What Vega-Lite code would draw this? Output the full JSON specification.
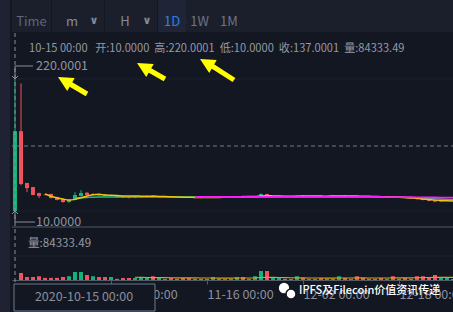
{
"$schema": "https://vega.github.io/schema/vega-lite/v6.json",
"background": "#131722",
"padding": 0,
"spacing": 0,
"bounds": "full",
"config": {"view": {"stroke": null}, "font": "Noto Sans CJK SC", "concat": {"spacing": 0}, "scale": {"continuousPadding": 0}},
"datasets": {
"candles": [
{"date":"2020-10-15","open":10,"high":220.0001,"low":10,"close":137.0001,"vol":null},
{"date":"2020-10-16","open":137.0001,"high":213,"low":51,"close":53,"vol":56000},
{"date":"2020-10-17","open":54.5,"high":55,"low":40,"close":46.5,"vol":24000},
{"date":"2020-10-18","open":48,"high":48.5,"low":35,"close":35.5,"vol":24000},
{"date":"2020-10-19","open":38.5,"high":39,"low":30.7,"close":34,"vol":30000},
{"date":"2020-10-20","open":35.8,"high":36.5,"low":35,"close":35.3,"vol":17000,"ma5":37},
{"date":"2020-10-21","open":37,"high":37.5,"low":30,"close":30.7,"vol":17000,"ma5":33.5},
{"date":"2020-10-22","open":32,"high":32.5,"low":27,"close":27.5,"vol":17000,"ma5":31},
{"date":"2020-10-23","open":29,"high":29.5,"low":23,"close":24.3,"vol":24000,"ma5":29},
{"date":"2020-10-24","open":24.3,"high":28.5,"low":23,"close":27.5,"vol":30000,"ma5":27.5},
{"date":"2020-10-25","open":27.5,"high":40,"low":27,"close":35.5,"vol":64000,"ma5":28.5,"ma10":30.5},
{"date":"2020-10-26","open":33.9,"high":43,"low":33,"close":38.6,"vol":64000,"ma5":31,"ma10":31},
{"date":"2020-10-27","open":39,"high":40,"low":35.5,"close":35.5,"vol":40000,"ma5":34,"ma10":31.5},
{"date":"2020-10-28","open":35.5,"high":38.6,"low":35,"close":37,"vol":30000,"ma5":36,"ma10":32},
{"date":"2020-10-29","open":37,"high":37.5,"low":34,"close":35,"vol":24000,"ma5":36.5,"ma10":32.2},
{"date":"2020-10-30","open":36,"high":36.5,"low":33.5,"close":34,"vol":24000,"ma5":35.5,"ma10":32.3},
{"date":"2020-10-31","open":33.9,"high":35.5,"low":33,"close":35,"vol":24000,"ma5":35,"ma10":32.4},
{"date":"2020-11-01","open":34,"high":34.5,"low":31.5,"close":32,"vol":9000,"ma5":34.5,"ma10":32.4},
{"date":"2020-11-02","open":33,"high":33.5,"low":31,"close":31.5,"vol":16000,"ma5":34,"ma10":32.4},
{"date":"2020-11-03","open":32,"high":32.5,"low":30,"close":30.7,"vol":16000,"ma5":33.8,"ma10":32.3},
{"date":"2020-11-04","open":31,"high":33,"low":30.5,"close":32.3,"vol":16000,"ma5":33.8,"ma10":32.3,"vma":22000},
{"date":"2020-11-05","open":32,"high":33.5,"low":31.5,"close":33,"vol":16000,"ma5":33.6,"ma10":32.3,"vma":21000},
{"date":"2020-11-06","open":33,"high":34.5,"low":32.5,"close":33.5,"vol":16000,"ma5":33.5,"ma10":32.3,"vma":20000},
{"date":"2020-11-07","open":34.5,"high":35,"low":32,"close":32.5,"vol":30000,"ma5":33.4,"ma10":32.3,"vma":19500},
{"date":"2020-11-08","open":32.3,"high":33.5,"low":32,"close":33,"vol":16000,"ma5":33.2,"ma10":32.3,"vma":19000},
{"date":"2020-11-09","open":33,"high":33.5,"low":32.5,"close":33.2,"vol":9000,"ma5":33,"ma10":32.3,"vma":18500},
{"date":"2020-11-10","open":33.4,"high":34,"low":32,"close":32.5,"vol":16000,"ma5":32.6,"ma10":32.3,"vma":18000},
{"date":"2020-11-11","open":32.6,"high":33,"low":31.5,"close":32,"vol":9000,"ma5":32.3,"ma10":32.2,"vma":17500},
{"date":"2020-11-12","open":32.5,"high":33,"low":31,"close":31.5,"vol":16000,"ma5":32,"ma10":32.2,"vma":17000},
{"date":"2020-11-13","open":32,"high":32.5,"low":30.5,"close":31,"vol":16000,"ma5":31.8,"ma10":32.2,"vma":17000},
{"date":"2020-11-14","open":31.5,"high":32,"low":30.5,"close":31,"vol":9000,"ma5":31.6,"ma10":32.1,"ma30":32.3,"vma":16500},
{"date":"2020-11-15","open":31.3,"high":32,"low":30,"close":30.7,"vol":9000,"ma5":31.4,"ma10":32.1,"ma30":32.3,"vma":16000},
{"date":"2020-11-16","open":31,"high":32,"low":30.5,"close":31.2,"vol":9000,"ma5":31.3,"ma10":32.1,"ma30":32.3,"vma":16000},
{"date":"2020-11-17","open":31.2,"high":33,"low":31,"close":32.8,"vol":24000,"ma5":31.5,"ma10":32.1,"ma30":32.3,"vma":16000},
{"date":"2020-11-18","open":32.5,"high":33,"low":31.5,"close":32,"vol":9000,"ma5":31.6,"ma10":32.1,"ma30":32.3,"vma":15500},
{"date":"2020-11-19","open":32,"high":33,"low":31.5,"close":32.6,"vol":9000,"ma5":31.8,"ma10":32.1,"ma30":32.3,"vma":15500},
{"date":"2020-11-20","open":32.5,"high":33.5,"low":32,"close":33,"vol":9000,"ma5":32,"ma10":32.2,"ma30":32.3,"vma":15500},
{"date":"2020-11-21","open":33,"high":34,"low":32.5,"close":33.8,"vol":24000,"ma5":32.5,"ma10":32.2,"ma30":32.3,"vma":16000},
{"date":"2020-11-22","open":34,"high":34.5,"low":32.5,"close":33,"vol":24000,"ma5":32.8,"ma10":32.3,"ma30":32.3,"vma":16000},
{"date":"2020-11-23","open":33,"high":33.5,"low":32.5,"close":33.2,"vol":9000,"ma5":33,"ma10":32.3,"ma30":32.3,"vma":16000},
{"date":"2020-11-24","open":32.8,"high":34,"low":32.5,"close":33.8,"vol":30000,"ma5":33.2,"ma10":32.4,"ma30":32.3,"vma":17000},
{"date":"2020-11-25","open":32.3,"high":38,"low":32,"close":37,"vol":72000,"ma5":34,"ma10":32.6,"ma30":32.4,"vma":20000},
{"date":"2020-11-26","open":37,"high":37.5,"low":32.5,"close":32.8,"vol":72000,"ma5":34.2,"ma10":32.7,"ma30":32.4,"vma":22000},
{"date":"2020-11-27","open":32.8,"high":33.5,"low":32.3,"close":33.2,"vol":16000,"ma5":34,"ma10":32.7,"ma30":32.4,"vma":21000},
{"date":"2020-11-28","open":33,"high":34,"low":32.5,"close":33.5,"vol":16000,"ma5":33.8,"ma10":32.7,"ma30":32.4,"vma":20000},
{"date":"2020-11-29","open":33.5,"high":34,"low":32.8,"close":33,"vol":9000,"ma5":33.6,"ma10":32.7,"ma30":32.4,"vma":19000},
{"date":"2020-11-30","open":33,"high":33.8,"low":32.5,"close":33.4,"vol":9000,"ma5":33.4,"ma10":32.7,"ma30":32.4,"vma":18000},
{"date":"2020-12-01","open":33.2,"high":35,"low":32.8,"close":34.4,"vol":30000,"ma5":33.6,"ma10":32.7,"ma30":32.4,"vma":17000},
{"date":"2020-12-02","open":34.3,"high":34.8,"low":33,"close":33.3,"vol":16000,"ma5":33.7,"ma10":32.7,"ma30":32.4,"vma":17000},
{"date":"2020-12-03","open":33.3,"high":34,"low":32.8,"close":33.6,"vol":9000,"ma5":33.8,"ma10":32.7,"ma30":32.4,"vma":16000},
{"date":"2020-12-04","open":33.6,"high":34.5,"low":33,"close":34,"vol":9000,"ma5":33.8,"ma10":32.7,"ma30":32.4,"vma":16000},
{"date":"2020-12-05","open":34,"high":34.6,"low":33,"close":33.3,"vol":16000,"ma5":33.7,"ma10":32.7,"ma30":32.4,"vma":16000},
{"date":"2020-12-06","open":33.3,"high":33.8,"low":32.8,"close":33.5,"vol":9000,"ma5":33.6,"ma10":32.7,"ma30":32.4,"vma":15500},
{"date":"2020-12-07","open":33.5,"high":35.5,"low":33,"close":34.2,"vol":9000,"ma5":33.8,"ma10":32.7,"ma30":32.4,"vma":15500},
{"date":"2020-12-08","open":33.5,"high":34.5,"low":33,"close":34.3,"vol":30000,"ma5":34,"ma10":32.7,"ma30":32.4,"vma":16000},
{"date":"2020-12-09","open":34.3,"high":35,"low":33.5,"close":33.6,"vol":16000,"ma5":34,"ma10":32.7,"ma30":32.4,"vma":16000},
{"date":"2020-12-10","open":33.6,"high":34,"low":33.2,"close":33.8,"vol":9000,"ma5":33.9,"ma10":32.7,"ma30":32.4,"vma":16000},
{"date":"2020-12-11","open":33.8,"high":34.2,"low":33,"close":33.4,"vol":30000,"ma5":33.7,"ma10":32.7,"ma30":32.4,"vma":16500},
{"date":"2020-12-12","open":33.4,"high":33.8,"low":32.8,"close":33.2,"vol":16000,"ma5":33.5,"ma10":32.7,"ma30":32.4,"vma":16500},
{"date":"2020-12-13","open":33.2,"high":33.6,"low":32.6,"close":33,"vol":9000,"ma5":33.3,"ma10":32.6,"ma30":32.4,"vma":16000},
{"date":"2020-12-14","open":33,"high":33.4,"low":32.3,"close":32.6,"vol":9000,"ma5":33,"ma10":32.6,"ma30":32.3,"vma":16000},
{"date":"2020-12-15","open":32.6,"high":33,"low":32,"close":32.3,"vol":16000,"ma5":32.8,"ma10":32.5,"ma30":32.3,"vma":16000},
{"date":"2020-12-16","open":32.3,"high":32.8,"low":31.8,"close":32.5,"vol":9000,"ma5":32.5,"ma10":32.4,"ma30":32.2,"vma":16000},
{"date":"2020-12-17","open":32.5,"high":32.8,"low":31.5,"close":31.8,"vol":30000,"ma5":32.2,"ma10":32.2,"ma30":32.2,"vma":17000},
{"date":"2020-12-18","open":31.8,"high":32.2,"low":30.8,"close":31,"vol":9000,"ma5":31.8,"ma10":32,"ma30":32.1,"vma":17000},
{"date":"2020-12-19","open":31,"high":31.5,"low":30.3,"close":30.7,"vol":16000,"ma5":31.3,"ma10":31.7,"ma30":32,"vma":17000},
{"date":"2020-12-20","open":30.7,"high":31.3,"low":30,"close":30.5,"vol":9000,"ma5":30.8,"ma10":31.4,"ma30":31.9,"vma":17000},
{"date":"2020-12-21","open":30.5,"high":30.8,"low":28,"close":29,"vol":30000,"ma5":30.2,"ma10":31,"ma30":31.8,"vma":18000},
{"date":"2020-12-22","open":29.5,"high":30,"low":27,"close":27.5,"vol":30000,"ma5":29.2,"ma10":30.5,"ma30":31.7,"vma":19000},
{"date":"2020-12-23","open":28,"high":28.5,"low":25.5,"close":26,"vol":16000,"ma5":28.3,"ma10":30,"ma30":31.6,"vma":20000},
{"date":"2020-12-24","open":27,"high":27.5,"low":24,"close":25,"vol":40000,"ma5":27.3,"ma10":29.4,"ma30":31.5,"vma":21000},
{"date":"2020-12-25","open":25,"high":27,"low":24.5,"close":26.5,"vol":16000,"ma5":26.6,"ma10":28.9,"ma30":31.4,"vma":21000},
{"date":"2020-12-26","open":26.5,"high":28,"low":26,"close":27.5,"vol":24000,"ma5":26.2,"ma10":28.4,"ma30":31.3,"vma":21000},
{"date":"2020-12-27","open":27.5,"high":28.5,"low":27,"close":28,"vol":9000,"ma5":26,"ma10":28,"ma30":31.2,"vma":21000}
],
"arrows": [
{"tip_date":"2020-10-22T04:00:00Z","tip_price":223.2,"neck_date":"2020-10-23T21:36:00Z","neck_price":213.6,"tail_date":"2020-10-27T00:00:00Z","tail_price":196.1},
{"tip_date":"2020-11-04T08:00:00Z","tip_price":245.5,"neck_date":"2020-11-06T01:36:00Z","neck_price":235.9,"tail_date":"2020-11-09T00:00:00Z","tail_price":220.0},
{"tip_date":"2020-11-14T20:00:00Z","tip_price":251.8,"neck_date":"2020-11-16T13:36:00Z","neck_price":242.3,"tail_date":"2020-11-20T12:00:00Z","tail_price":218.4}
]
},
"hconcat": [
{"width": 10, "height": 312, "view": {"fill": "#1e2233", "stroke": null}, "data": {"values": [{"t": ""}]}, "mark": {"type": "text"}, "encoding": {"text": {"field": "t"}}},
{"vconcat": [
 {"hconcat": [
  {"width": 39, "height": 32, "view": {"fill": "#1b1f2c", "stroke": null}, "data": {"values": [{"label": "Time"}]}, "mark": {"type": "text", "fontSize": 13, "color": "#5f6678", "dy": 6}, "encoding": {"text": {"field": "label"}}},
  {"width": 52, "height": 32, "view": {"fill": "#1b1f2c", "stroke": null}, "data": {"values": [{"label": "m", "chev": "∨"}]}, "layer": [
    {"mark": {"type": "text", "fontSize": 13, "color": "#858b97", "dy": 6, "dx": -6}, "encoding": {"text": {"field": "label"}}},
    {"mark": {"type": "text", "fontSize": 11, "fontWeight": "bold", "font": "DejaVu Sans", "color": "#858b97", "dy": 5, "dx": 16}, "encoding": {"text": {"field": "chev"}}}
  ]},
  {"width": 52, "height": 32, "view": {"fill": "#1b1f2c", "stroke": null}, "data": {"values": [{"label": "H", "chev": "∨"}]}, "layer": [
    {"mark": {"type": "text", "fontSize": 13, "color": "#858b97", "dy": 6, "dx": -6}, "encoding": {"text": {"field": "label"}}},
    {"mark": {"type": "text", "fontSize": 11, "fontWeight": "bold", "font": "DejaVu Sans", "color": "#858b97", "dy": 5, "dx": 16}, "encoding": {"text": {"field": "chev"}}}
  ]},
  {"hconcat": [
   {"width": 28, "height": 32, "view": {"fill": "#1f2536", "stroke": null}, "data": {"values": [{"label": "1D"}]}, "mark": {"type": "text", "fontSize": 13, "color": "#2f7fe8", "dy": 6}, "encoding": {"text": {"field": "label"}}},
   {"width": 27, "height": 32, "view": {"fill": "#1b1f2c", "stroke": null}, "data": {"values": [{"label": "1W"}]}, "mark": {"type": "text", "fontSize": 13, "color": "#6d7486", "dy": 6}, "encoding": {"text": {"field": "label"}}},
   {"width": 32, "height": 32, "view": {"fill": "#1b1f2c", "stroke": null}, "data": {"values": [{"label": "1M"}]}, "mark": {"type": "text", "fontSize": 13, "color": "#6d7486", "dy": 6}, "encoding": {"text": {"field": "label"}}},
   {"width": 210, "height": 32, "view": {"fill": "#1b1f2c", "stroke": null}, "data": {"values": [{"label": ""}]}, "mark": {"type": "text"}, "encoding": {"text": {"field": "label"}}}
  ], "spacing": 0, "bounds": "full"}
 ], "spacing": 1, "bounds": "full"},
 {"width": 443, "height": 280,
  "resolve": {"scale": {"y": "independent"}},
  "layer": [
  {"data": {"name": "candles"}, "layer": [
    {"data": {"values": [{"p": 10}, {"p": 220.0001}]}, "mark": {"type": "rule", "color": "#1d2130", "strokeWidth": 1}, "encoding": {"y": {"field": "p", "type": "quantitative", "scale": {"domain": [-152.27, 293.18], "nice": false, "zero": false}, "axis": null}}},
    {"mark": {"type": "rule", "strokeWidth": 1}, "encoding": {
      "x": {"field": "date", "type": "temporal", "scale": {"type": "utc", "padding": 0, "domain": [{"year": 2020, "month": 10, "date": 14, "hours": 12, "utc": true}, {"year": 2020, "month": 12, "date": 27, "hours": 8, "utc": true}]}, "axis": {"values": [{"year": 2020, "month": 10, "date": 31, "utc": true}, {"year": 2020, "month": 11, "date": 16, "utc": true}, {"year": 2020, "month": 12, "date": 2, "utc": true}, {"year": 2020, "month": 12, "date": 18, "utc": true}], "labelExpr": "utcFormat(datum.value, '%m-%d %H:%M')", "offset": -33, "title": null, "grid": false, "domainColor": "#555b69", "tickColor": "#555b69", "tickSize": 4, "labelColor": "#8a8f9b", "labelFontSize": 12.5, "labelFont": "Noto Sans CJK SC", "labelAlign": "left", "labelBaseline": "top", "labelPadding": 4, "labelOverlap": false, "labelFlush": false, "labelBound": false}},
      "y": {"field": "low", "type": "quantitative", "scale": {"domain": [-152.27, 293.18], "nice": false, "zero": false}, "axis": null},
      "y2": {"field": "high"},
      "color": {"condition": {"test": "datum.close >= datum.open", "value": "#14b27b"}, "value": "#f0535e"}}},
    {"mark": {"type": "bar", "width": 4}, "encoding": {
      "x": {"field": "date", "type": "temporal", "scale": {"padding": 0}},
      "y": {"field": "open", "type": "quantitative", "axis": null},
      "y2": {"field": "close"},
      "color": {"condition": {"test": "datum.close >= datum.open", "value": "#14b27b"}, "value": "#f0535e"}}},
    {"mark": {"type": "line", "color": "#19c37d", "strokeWidth": 1.5, "interpolate": "monotone"}, "encoding": {"x": {"field": "date", "type": "temporal"}, "y": {"field": "ma10", "type": "quantitative", "axis": null}}},
    {"mark": {"type": "line", "color": "#f2c40f", "strokeWidth": 1.5, "interpolate": "monotone"}, "encoding": {"x": {"field": "date", "type": "temporal"}, "y": {"field": "ma5", "type": "quantitative", "axis": null}}},
    {"mark": {"type": "line", "color": "#ff1aff", "strokeWidth": 1.8, "interpolate": "monotone"}, "encoding": {"x": {"field": "date", "type": "temporal"}, "y": {"field": "ma30", "type": "quantitative", "axis": null}}},
    {"data": {"values": [{}]}, "mark": {"type": "rule", "color": "#767b87", "strokeWidth": 1, "strokeDash": [4, 3]}, "encoding": {"y": {"datum": 113.4, "type": "quantitative", "axis": null}}},
    {"data": {"values": [{}]}, "mark": {"type": "rule", "color": "#8a8f9b", "strokeWidth": 1}, "encoding": {"x": {"datum": {"year": 2020, "month": 10, "date": 15, "utc": true}, "type": "temporal"}, "y": {"datum": 240.7, "type": "quantitative", "axis": null}, "y2": {"datum": 220.0001}}},
    {"data": {"values": [{}]}, "mark": {"type": "rule", "color": "#8a8f9b", "strokeWidth": 1}, "encoding": {"x": {"datum": {"year": 2020, "month": 10, "date": 15, "utc": true}, "type": "temporal"}, "x2": {"datum": {"year": 2020, "month": 10, "date": 18, "utc": true}}, "y": {"datum": 240.7, "type": "quantitative", "axis": null}}},
    {"data": {"values": [{}]}, "mark": {"type": "point", "shape": "M-1,-1L0,0L1,-1", "filled": false, "color": "#8a8f9b", "strokeWidth": 1, "size": 36, "opacity": 1}, "encoding": {"x": {"datum": {"year": 2020, "month": 10, "date": 15, "utc": true}, "type": "temporal"}, "y": {"datum": 220.0001, "type": "quantitative", "axis": null}}},
    {"data": {"values": [{}]}, "mark": {"type": "text", "text": "220.0001", "align": "left", "baseline": "middle", "dx": 21, "fontSize": 12.5, "color": "#8e939f"}, "encoding": {"x": {"datum": {"year": 2020, "month": 10, "date": 15, "utc": true}, "type": "temporal"}, "y": {"datum": 240.7, "type": "quantitative", "axis": null}}},
    {"data": {"values": [{}]}, "mark": {"type": "rule", "color": "#8a8f9b", "strokeWidth": 1}, "encoding": {"x": {"datum": {"year": 2020, "month": 10, "date": 15, "utc": true}, "type": "temporal"}, "y": {"datum": 10, "type": "quantitative", "axis": null}, "y2": {"datum": -7.5}}},
    {"data": {"values": [{}]}, "mark": {"type": "rule", "color": "#8a8f9b", "strokeWidth": 1}, "encoding": {"x": {"datum": {"year": 2020, "month": 10, "date": 15, "utc": true}, "type": "temporal"}, "x2": {"datum": {"year": 2020, "month": 10, "date": 18, "hours": 8, "utc": true}}, "y": {"datum": -7.5, "type": "quantitative", "axis": null}}},
    {"data": {"values": [{}]}, "mark": {"type": "point", "shape": "M-1,1L0,0L1,1", "filled": false, "color": "#8a8f9b", "strokeWidth": 1, "size": 36, "opacity": 1}, "encoding": {"x": {"datum": {"year": 2020, "month": 10, "date": 15, "utc": true}, "type": "temporal"}, "y": {"datum": 10, "type": "quantitative", "axis": null}}},
    {"data": {"values": [{}]}, "mark": {"type": "text", "text": "10.0000", "align": "left", "baseline": "middle", "dx": 21, "fontSize": 12.5, "color": "#8e939f"}, "encoding": {"x": {"datum": {"year": 2020, "month": 10, "date": 15, "utc": true}, "type": "temporal"}, "y": {"datum": -7.5, "type": "quantitative", "axis": null}}},
    {"data": {"values": [{}]}, "mark": {"type": "text", "text": "10-15 00:00\u00a0\u00a0\u00a0开:10.0000\u00a0\u00a0高:220.0001\u00a0\u00a0低:10.0000\u00a0\u00a0收:137.0001\u00a0\u00a0量:84333.49", "align": "left", "baseline": "middle", "dx": 14, "fontSize": 11.1, "color": "#9499a4"}, "encoding": {"x": {"datum": {"year": 2020, "month": 10, "date": 15, "utc": true}, "type": "temporal"}, "y": {"datum": 267.7, "type": "quantitative", "axis": null}}},
    {"data": {"name": "arrows"}, "mark": {"type": "rule", "color": "#ffff00", "strokeWidth": 5, "strokeCap": "butt"}, "encoding": {"x": {"field": "tail_date", "type": "temporal"}, "x2": {"field": "neck_date"}, "y": {"field": "tail_price", "type": "quantitative", "axis": null}, "y2": {"field": "neck_price"}}},
    {"data": {"name": "arrows"}, "mark": {"type": "point", "shape": "M0,0L-0.85,1.7L0.85,1.7Z", "filled": true, "color": "#ffff00", "size": 310, "angle": 300, "opacity": 1}, "encoding": {"x": {"field": "tip_date", "type": "temporal"}, "y": {"field": "tip_price", "type": "quantitative", "axis": null}}}
  ]},
  {"data": {"name": "candles"}, "layer": [
    {"data": {"values": [{"v": 424000}, {"v": 192000}]}, "mark": {"type": "rule", "strokeWidth": 1}, "encoding": {"y": {"field": "v", "type": "quantitative", "scale": {"domain": [-264000, 1976000], "nice": false, "zero": false}, "axis": null}, "color": {"condition": {"test": "datum.v > 300000", "value": "#535968"}, "value": "#1e2230"}}},
    {"mark": {"type": "bar", "width": 4}, "encoding": {
      "x": {"field": "date", "type": "temporal", "scale": {"padding": 0}},
      "y": {"field": "vol", "type": "quantitative", "axis": null},
      "y2": {"datum": 0},
      "color": {"condition": {"test": "datum.close >= datum.open", "value": "#14b27b"}, "value": "#f0535e"}}},
    {"mark": {"type": "line", "color": "#d9a400", "strokeWidth": 1.2}, "encoding": {"x": {"field": "date", "type": "temporal"}, "y": {"field": "vma", "type": "quantitative", "axis": null}}},
    {"data": {"values": [{}]}, "mark": {"type": "text", "text": "量:84333.49", "align": "left", "baseline": "middle", "dx": 13, "fontSize": 11.6, "color": "#9499a4"}, "encoding": {"x": {"datum": {"year": 2020, "month": 10, "date": 15, "utc": true}, "type": "temporal"}, "y": {"datum": 288000, "type": "quantitative", "axis": null}}},
    {"data": {"values": [{}]}, "mark": {"type": "rule", "color": "#8a8f9b", "strokeWidth": 1, "strokeDash": [4, 3]}, "encoding": {"x": {"datum": {"year": 2020, "month": 10, "date": 15, "utc": true}, "type": "temporal"}}},
    {"data": {"values": [{}]}, "mark": {"type": "rect", "fill": "#131722", "stroke": "#6b7b90", "strokeWidth": 1}, "encoding": {"x": {"datum": {"year": 2020, "month": 10, "date": 14, "hours": 20, "utc": true}, "type": "temporal"}, "x2": {"datum": {"year": 2020, "month": 11, "date": 7, "hours": 8, "utc": true}}, "y": {"datum": -32000, "type": "quantitative", "axis": null}, "y2": {"datum": -248000}}},
    {"data": {"values": [{}]}, "mark": {"type": "text", "text": "2020-10-15 00:00", "align": "center", "baseline": "middle", "fontSize": 12.5, "color": "#8a8f9b"}, "encoding": {"x": {"datum": {"year": 2020, "month": 10, "date": 26, "hours": 12, "utc": true}, "type": "temporal"}, "y": {"datum": -136000, "type": "quantitative", "axis": null}}},
    {"data": {"values": [{}]}, "mark": {"type": "point", "shape": "circle", "filled": true, "fill": "#ffffff", "stroke": "#131722", "strokeWidth": 1.5, "size": 140, "opacity": 1}, "encoding": {"x": {"datum": {"year": 2020, "month": 11, "date": 28, "hours": 20, "utc": true}, "type": "temporal"}, "y": {"datum": -64000, "type": "quantitative", "axis": null}}},
    {"data": {"values": [{}]}, "mark": {"type": "point", "shape": "circle", "filled": true, "fill": "#ffffff", "stroke": "#131722", "strokeWidth": 1.5, "size": 100, "opacity": 1}, "encoding": {"x": {"datum": {"year": 2020, "month": 11, "date": 30, "utc": true}, "type": "temporal"}, "y": {"datum": -112000, "type": "quantitative", "axis": null}}},
    {"data": {"values": [{}]}, "mark": {"type": "text", "text": "IPFS及Filecoin价值资讯传递", "align": "left", "baseline": "middle", "fontSize": 11, "fontWeight": 500, "color": "#ffffff"}, "encoding": {"x": {"datum": {"year": 2020, "month": 12, "date": 1, "hours": 8, "utc": true}, "type": "temporal"}, "y": {"datum": -88000, "type": "quantitative", "axis": null}}}
  ]}
 ]}
], "spacing": 0, "bounds": "full"}
]
}
